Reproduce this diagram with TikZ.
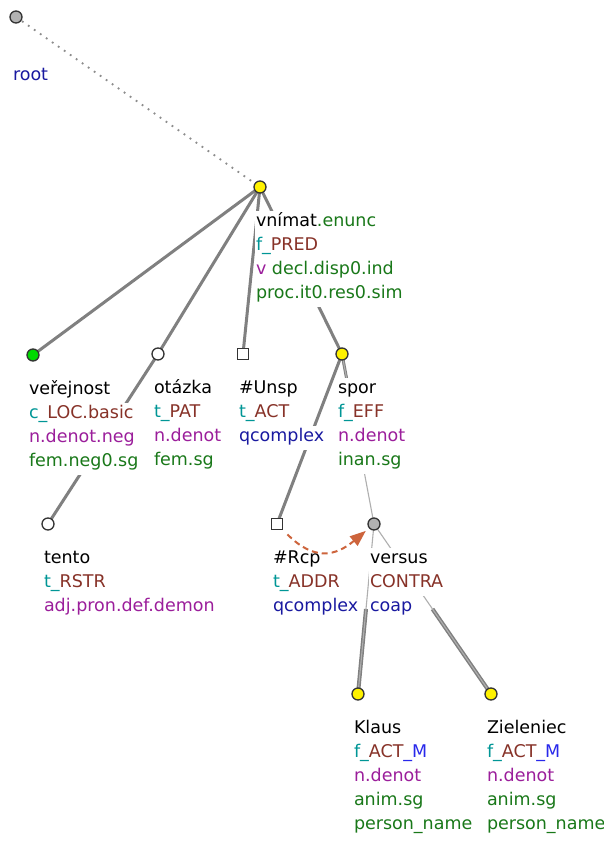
\documentclass[tikz,border=0pt]{standalone}
\usepackage{fontspec}
\setmainfont{DejaVu Sans}
\usetikzlibrary{calc,arrows.meta}
\definecolor{cfun}{RGB}{0,150,150}
\definecolor{cfn}{RGB}{135,50,40}
\definecolor{cpos}{RGB}{155,30,155}
\definecolor{cgr}{RGB}{25,120,25}
\definecolor{cnt}{RGB}{25,25,160}
\definecolor{cmb}{RGB}{40,40,235}
\definecolor{edg}{RGB}{128,128,128}
\definecolor{edgl}{RGB}{175,175,175}
\definecolor{carr}{RGB}{205,100,60}
\newcommand\Cfun[1]{\textcolor{cfun}{#1}}
\newcommand\Cfn[1]{\textcolor{cfn}{#1}}
\newcommand\Cpos[1]{\textcolor{cpos}{#1}}
\newcommand\Cgr[1]{\textcolor{cgr}{#1}}
\newcommand\Cnt[1]{\textcolor{cnt}{#1}}
\newcommand\Cmb[1]{\textcolor{cmb}{#1}}
\newcommand\labs[2]{%
  \foreach \t [count=\i from 0] in {#2} {\node[lab] (#1-l\i) at ([shift={(-5,39+24*\i)}]#1) {\t};}}
\tikzset{
  lab/.style={anchor=base west, inner xsep=1pt, inner ysep=0pt, outer sep=0pt, fill=white,
    text height=15pt, text depth=9pt, font=\fontsize{17.5pt}{24pt}\selectfont},
  mk/.style={circle, draw=black!80, line width=1.3pt, minimum size=12pt, inner sep=0pt},
  ymk/.style={mk, fill=yellow},
  gmk/.style={mk, fill=green!85!black},
  wmk/.style={mk, fill=white},
  grmk/.style={mk, fill=black!30},
  sqmk/.style={rectangle, draw=black!80, line width=1.3pt, minimum size=11pt, inner sep=0pt, fill=white},
  thickedge/.style={draw=edg, line width=3pt},
  coordedge/.style={draw=edg, line width=4pt},
  thinedge/.style={draw=edgl, line width=1.1pt},
  rootedge/.style={draw=black!45, line width=1.8pt, dash pattern=on 1.8pt off 5.5pt},
  rcparrow/.style={draw=carr, line width=2pt, dash pattern=on 6pt off 4pt,
    -{Triangle[length=16pt,width=12pt,fill=carr]}}
}
\begin{document}
\begin{tikzpicture}[x=1pt,y=-1pt]
\useasboundingbox (0,0) rectangle (604,841);
\fill[white] (0,0) rectangle (604,841);
% node positions
\coordinate (root) at (16,17);
\coordinate (vn) at (260,187);
\coordinate (ver) at (33,355);
\coordinate (ot) at (158,354);
\coordinate (uns) at (243,354);
\coordinate (spor) at (342,354);
\coordinate (tento) at (48,524);
\coordinate (rcp) at (277,524);
\coordinate (versus) at (374,524);
\coordinate (klaus) at (358,694);
\coordinate (ziel) at (491,694);
% edges
\draw[rootedge] (root) -- (vn);
\draw[thickedge] (vn) -- (ver);
\draw[thickedge] (vn) -- (ot);
\draw[thickedge] (vn) -- (uns);
\draw[thickedge] (vn) -- (spor);
\draw[thickedge] (ot) -- (tento);
\draw[thickedge] (spor) -- (rcp);
\draw[thickedge] (spor) -- ($(spor)!0.5!(versus)$);
\draw[thinedge] (spor) -- (versus);
\draw[coordedge] ($(versus)!0.5!(klaus)$) -- (klaus);
\draw[thinedge] (versus) -- (klaus);
\draw[coordedge] ($(versus)!0.5!(ziel)$) -- (ziel);
\draw[thinedge] (versus) -- (ziel);
% labels
\node[lab] (root-l0) at ([shift={(-4,63)}]root) {\Cnt{root}};
\labs{vn}{{vnímat\Cgr{.enunc}},{\Cfun{f\_}\Cfn{PRED}},{\Cpos{v} \Cgr{decl.disp0.ind}},{\Cgr{proc.it0.res0.sim}}}
\labs{ver}{{veřejnost},{\Cfun{c\_}\Cfn{LOC.basic}},{\Cpos{n.denot.neg}},{\Cgr{fem.neg0.sg}}}
\labs{ot}{{otázka},{\Cfun{t\_}\Cfn{PAT}},{\Cpos{n.denot}},{\Cgr{fem.sg}}}
\labs{uns}{{\#Unsp},{\Cfun{t\_}\Cfn{ACT}},{\Cnt{qcomplex}}}
\labs{spor}{{spor},{\Cfun{f\_}\Cfn{EFF}},{\Cpos{n.denot}},{\Cgr{inan.sg}}}
\labs{tento}{{tento},{\Cfun{t\_}\Cfn{RSTR}},{\Cpos{adj.pron.def.demon}}}
\labs{rcp}{{\#Rcp},{\Cfun{t\_}\Cfn{ADDR}},{\Cnt{qcomplex}}}
\labs{versus}{{versus},{\Cfn{CONTRA}},{\Cnt{coap}}}
\labs{klaus}{{Klaus},{\Cfun{f\_}\Cfn{ACT}\Cmb{\_M}},{\Cpos{n.denot}},{\Cgr{anim.sg}},{\Cgr{person\_name}}}
\labs{ziel}{{Zieleniec},{\Cfun{f\_}\Cfn{ACT}\Cmb{\_M}},{\Cpos{n.denot}},{\Cgr{anim.sg}},{\Cgr{person\_name}}}
% markers
\node[grmk] (m-root) at (root) {};
\node[ymk] (m-vn) at (vn) {};
\node[gmk] (m-ver) at (ver) {};
\node[wmk] (m-ot) at (ot) {};
\node[sqmk] (m-uns) at (uns) {};
\node[ymk] (m-spor) at (spor) {};
\node[wmk] (m-tento) at (tento) {};
\node[sqmk] (m-rcp) at (rcp) {};
\node[grmk] (m-versus) at (versus) {};
\node[ymk] (m-klaus) at (klaus) {};
\node[ymk] (m-ziel) at (ziel) {};
% coreference arrow
\draw[rcparrow, shorten <=6pt, shorten >=4pt] (m-rcp) to[out=-45,in=-140,looseness=1.3] (m-versus);
\end{tikzpicture}
\end{document}
